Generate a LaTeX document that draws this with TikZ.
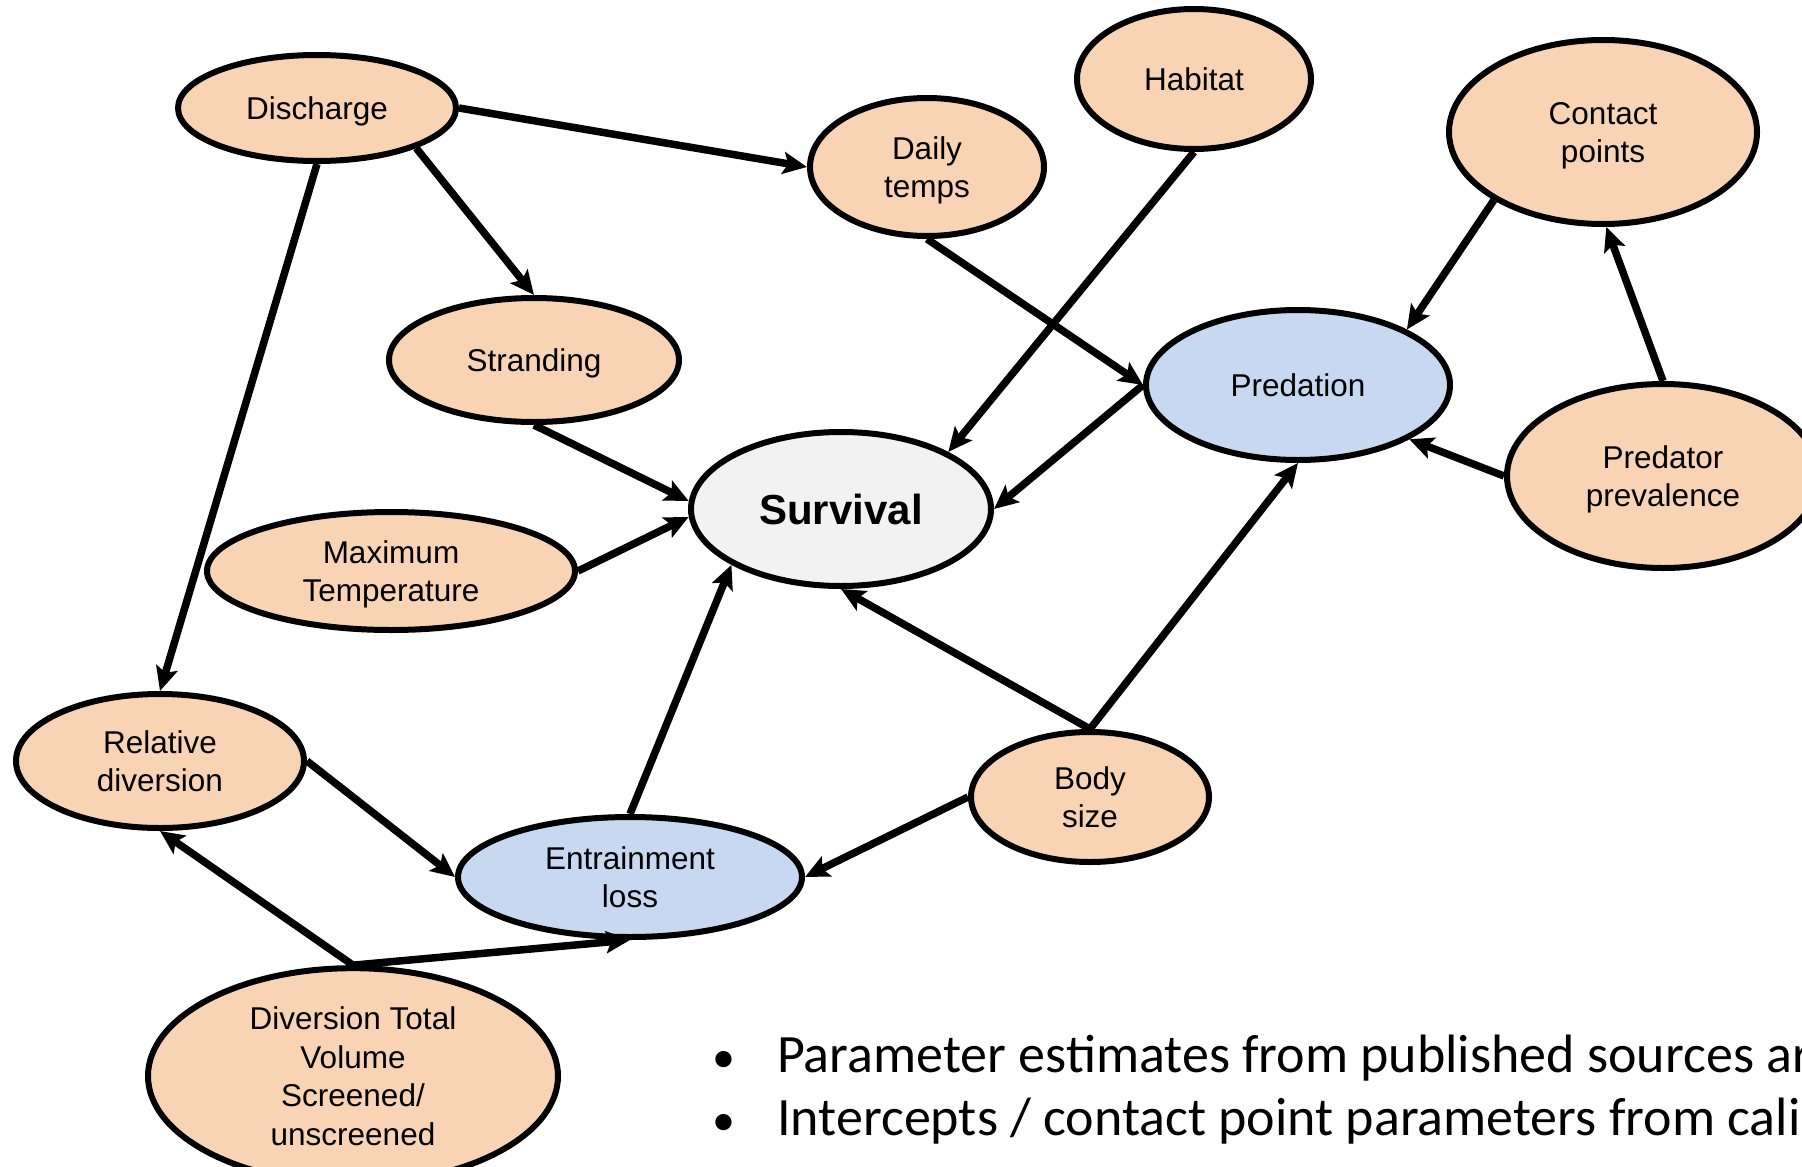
\documentclass[tikz,border=0pt]{standalone}
\usepackage{fontspec}
\setmainfont{Liberation Sans}
\newfontfamily\notefont{Carlito}
\usetikzlibrary{shapes.geometric,arrows.meta}
\definecolor{peach}{HTML}{F9D4B4}
\definecolor{paleblue}{HTML}{C6D9F1}
\definecolor{palegray}{HTML}{F2F2F2}
% struts that keep the labels optically centred in their ellipses
\newcommand{\topstrut}{\rule{0pt}{30pt}}
\newcommand{\botstrut}{\rule[-7pt]{0pt}{7pt}}

\begin{document}
\begin{tikzpicture}[x=1pt,y=-1pt,
  bub/.style={ellipse, draw=black, line width=6pt, inner sep=0pt, align=center},
  factor/.style={bub, fill=peach, font=\fontsize{31.5}{38.5}\selectfont},
  process/.style={factor, fill=paleblue},
  target/.style={bub, fill=palegray, font=\fontsize{42}{50}\selectfont\bfseries},
  link/.style={line width=7.5pt, -{Stealth[length=24pt,width=22pt,inset=5pt]}},
  note/.style={anchor=base west, inner sep=0pt, font=\notefont\fontsize{54}{64}\selectfont},
  dot/.style={anchor=base, inner sep=0pt, font=\notefont\fontsize{46}{54}\selectfont},
]
\useasboundingbox (0,0) rectangle (1802,1167);
\clip (0,0) rectangle (1802,1167);

% variables of the network
\node[factor, minimum width=278pt, minimum height=106pt] (disc)    at (317,108)  {\topstrut Discharge\botstrut};
\node[factor, minimum width=234pt, minimum height=138pt] (daily)   at (927,167)  {\topstrut Daily\\temps\botstrut};
\node[factor, minimum width=234pt, minimum height=140pt] (hab)     at (1194,79)  {\topstrut Habitat\botstrut};
\node[factor, minimum width=308pt, minimum height=184pt] (contact) at (1603,132) {\topstrut Contact\\points\botstrut};
\node[factor, minimum width=290pt, minimum height=124pt] (strand)  at (534,360)  {\topstrut Stranding\botstrut};
\node[process,minimum width=304pt, minimum height=150pt] (pred)    at (1298,385) {\topstrut Predation\botstrut};
\node[target, minimum width=300pt, minimum height=154pt] (surv)    at (841,509)  {Survival};
\node[factor, minimum width=368pt, minimum height=118pt] (maxt)    at (391,571)  {\topstrut Maximum\\Temperature\botstrut};
\node[factor, minimum width=312pt, minimum height=184pt] (prev)    at (1663,476) {\topstrut Predator\\prevalence\botstrut};
\node[factor, minimum width=288pt, minimum height=134pt] (rel)     at (160,761)  {\topstrut Relative\\diversion\botstrut};
\node[process,minimum width=344pt, minimum height=120pt] (ent)     at (630,877)  {\topstrut Entrainment\\loss\botstrut};
\node[factor, minimum width=238pt, minimum height=130pt] (body)    at (1090,797) {\topstrut Body\\size\botstrut};
\node[factor, minimum width=410pt, minimum height=192pt] (divt)    at (353,1076) {\topstrut Diversion Total\\Volume\\Screened/\\unscreened\botstrut};

% causal links
\draw[link] (disc.east)    -- (daily.west);
\draw[link] (disc.-22)     -- (strand.north);
\draw[link] (disc.south)   -- (rel.north);
\draw[link] (daily.south)  -- (pred.west);
\draw[link] (hab.south)    -- (surv.28);
\draw[link] (contact.212)  -- (pred.27);
\draw[link] (prev.north)   -- (contact.-88);
\draw[link] (prev.west)    -- (pred.-26);
\draw[link] (pred.west)    -- (surv.east);
\draw[link] (strand.south) -- (surv.177);
\draw[link] (maxt.east)    -- (surv.183);
\draw[link] (body.north)   -- (surv.south);
\draw[link] (body.north)   -- (pred.south);
\draw[link] (body.west)    -- (ent.east);
\draw[link] (ent.north)    -- (surv.207);
\draw[link] (rel.east)     -- (ent.west);
\draw[link] (divt.north)   -- (rel.south);
\draw[link] (divt.north)   -- (ent.south);

% notes
\node[dot]  (d1) at (724,1072) {•};
\node[note] (n1) at (777,1072) {Parameter estimates from published sources are};
\node[dot]  (d2) at (724,1135) {•};
\node[note] (n2) at (777,1135) {Intercepts / contact point parameters from calibration};
\end{tikzpicture}
\end{document}
